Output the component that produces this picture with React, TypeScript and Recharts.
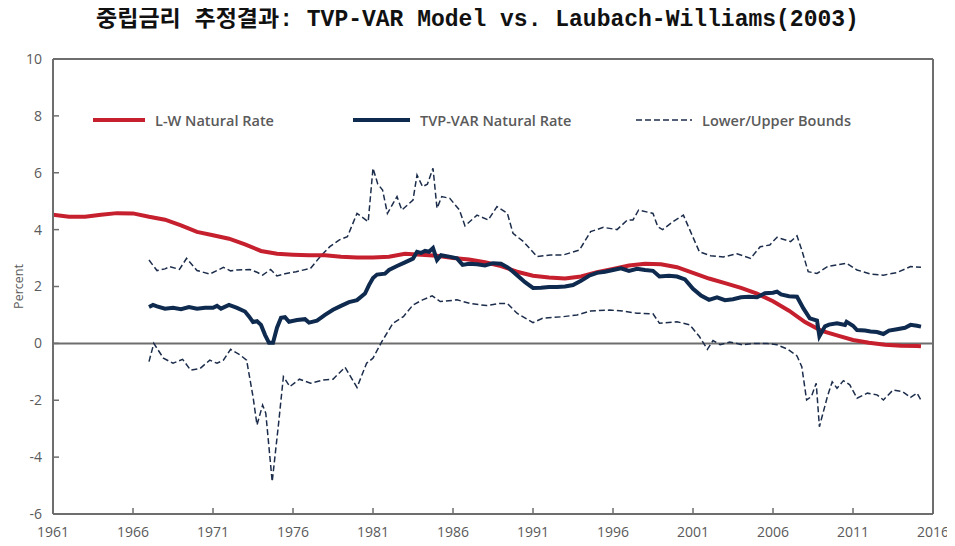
import React from 'react';
import { LineChart, Line, XAxis, YAxis, ReferenceLine, Legend, Label } from 'recharts';

const titleText = '중립금리 추정결과: TVP-VAR Model vs. Laubach-Williams(2003)';
const xTicks = [1961, 1966, 1971, 1976, 1981, 1986, 1991, 1996, 2001, 2006, 2011, 2016];
const yTicks = [-6, -4, -2, 0, 2, 4, 6, 8, 10];

const lwDates = [1961, 1962, 1963, 1964, 1965, 1966, 1967, 1968, 1969, 1970, 1971, 1972, 1973, 1974, 1975, 1976, 1977, 1978, 1979, 1980, 1981, 1982, 1983, 1984, 1985, 1986, 1987, 1988, 1989, 1990, 1991, 1992, 1993, 1994, 1995, 1996, 1997, 1998, 1999, 2000, 2001, 2002, 2003, 2004, 2005, 2006, 2007, 2008, 2009, 2010, 2011, 2012, 2013, 2014, 2015, 2015.25];
const lwRates = [4.52, 4.45, 4.45, 4.52, 4.58, 4.57, 4.45, 4.35, 4.15, 3.92, 3.80, 3.68, 3.48, 3.25, 3.15, 3.12, 3.10, 3.10, 3.05, 3.02, 3.02, 3.05, 3.15, 3.12, 3.08, 3.00, 2.95, 2.85, 2.72, 2.52, 2.38, 2.32, 2.28, 2.35, 2.50, 2.62, 2.74, 2.80, 2.78, 2.68, 2.48, 2.28, 2.12, 1.95, 1.75, 1.48, 1.15, 0.75, 0.45, 0.28, 0.12, 0.02, -0.05, -0.08, -0.09, -0.10];

const tvpDates = [1967.0, 1967.25, 1967.5, 1968.0, 1968.5, 1969.0, 1969.5, 1970.0, 1970.5, 1971.0, 1971.25, 1971.5, 1972.0, 1972.5, 1973.0, 1973.25, 1973.5, 1973.75, 1974.0, 1974.25, 1974.5, 1974.75, 1975.0, 1975.25, 1975.5, 1975.75, 1976.25, 1976.75, 1977.0, 1977.5, 1978.0, 1978.5, 1979.0, 1979.5, 1980.0, 1980.5, 1980.75, 1981.0, 1981.25, 1981.75, 1982.0, 1982.5, 1983.0, 1983.5, 1983.75, 1984.0, 1984.25, 1984.5, 1984.75, 1985.0, 1985.25, 1985.75, 1986.25, 1986.6, 1987.0, 1987.5, 1988.0, 1988.5, 1989.0, 1989.5, 1990.0, 1990.5, 1991.0, 1991.5, 1992.0, 1992.5, 1993.0, 1993.5, 1994.0, 1994.5, 1995.0, 1995.5, 1996.0, 1996.5, 1997.0, 1997.5, 1998.0, 1998.5, 1998.9, 1999.5, 2000.0, 2000.5, 2001.0, 2001.5, 2002.0, 2002.5, 2003.0, 2003.5, 2004.0, 2004.5, 2005.0, 2005.5, 2006.0, 2006.25, 2006.5, 2007.0, 2007.5, 2007.9, 2008.3, 2008.75, 2008.9, 2009.25, 2009.5, 2010.0, 2010.5, 2010.6, 2011.0, 2011.25, 2011.75, 2012.1, 2012.5, 2012.9, 2013.25, 2013.75, 2014.25, 2014.6, 2015.0, 2015.25];
const tvpRates = [1.28, 1.35, 1.30, 1.22, 1.25, 1.20, 1.28, 1.22, 1.25, 1.25, 1.32, 1.22, 1.35, 1.25, 1.12, 0.95, 0.75, 0.78, 0.65, 0.30, 0.02, 0.02, 0.55, 0.90, 0.92, 0.76, 0.82, 0.85, 0.73, 0.80, 1.00, 1.18, 1.32, 1.45, 1.52, 1.75, 2.05, 2.30, 2.42, 2.45, 2.58, 2.72, 2.85, 2.98, 3.22, 3.18, 3.25, 3.22, 3.35, 2.93, 3.10, 3.05, 2.99, 2.76, 2.80, 2.78, 2.74, 2.82, 2.80, 2.64, 2.40, 2.15, 1.95, 1.96, 1.98, 1.98, 2.00, 2.05, 2.20, 2.38, 2.48, 2.52, 2.58, 2.64, 2.55, 2.62, 2.58, 2.55, 2.35, 2.38, 2.35, 2.25, 1.92, 1.68, 1.53, 1.62, 1.52, 1.55, 1.62, 1.64, 1.62, 1.76, 1.78, 1.82, 1.72, 1.66, 1.64, 1.23, 0.88, 0.80, 0.25, 0.60, 0.66, 0.71, 0.65, 0.76, 0.62, 0.47, 0.45, 0.42, 0.40, 0.33, 0.45, 0.50, 0.55, 0.65, 0.62, 0.59];

const upperDates = [1967.0, 1967.5, 1968.0, 1968.3, 1968.9, 1969.35, 1970.0, 1970.8, 1971.65, 1972.1, 1972.5, 1973.3, 1973.75, 1974.1, 1974.6, 1975.0, 1975.5, 1976.2, 1977.1, 1977.7, 1978.3, 1978.9, 1979.4, 1980.0, 1980.7, 1981.0, 1981.3, 1981.6, 1981.9, 1982.5, 1982.8, 1983.5, 1983.75, 1984.1, 1984.4, 1984.75, 1985.0, 1985.3, 1985.8, 1986.4, 1986.75, 1987.5, 1988.2, 1988.75, 1989.4, 1989.75, 1990.4, 1991.25, 1992.1, 1992.9, 1993.9, 1994.6, 1995.4, 1996.25, 1996.9, 1997.25, 1997.6, 1998.5, 1998.8, 1999.1, 1999.75, 2000.4, 2000.8, 2001.4, 2002.1, 2002.9, 2003.75, 2004.6, 2005.2, 2005.8, 2006.25, 2007.1, 2007.5, 2007.8, 2008.2, 2008.75, 2009.4, 2010.0, 2010.6, 2011.25, 2012.1, 2012.9, 2013.75, 2014.6, 2015.25];
const upperRates = [2.93, 2.56, 2.62, 2.70, 2.60, 2.99, 2.56, 2.44, 2.67, 2.55, 2.58, 2.60, 2.50, 2.40, 2.60, 2.37, 2.45, 2.52, 2.64, 3.05, 3.40, 3.64, 3.75, 4.57, 4.28, 6.16, 5.60, 5.39, 4.57, 5.16, 4.69, 5.04, 5.92, 5.51, 5.60, 6.16, 4.75, 5.16, 5.10, 4.69, 4.13, 4.51, 4.34, 4.81, 4.57, 3.87, 3.58, 3.05, 3.11, 3.11, 3.28, 3.93, 4.08, 4.00, 4.34, 4.34, 4.69, 4.57, 4.10, 4.00, 4.28, 4.51, 3.99, 3.22, 3.08, 3.04, 3.15, 2.99, 3.40, 3.46, 3.73, 3.58, 3.78, 3.28, 2.52, 2.46, 2.70, 2.76, 2.82, 2.58, 2.44, 2.40, 2.49, 2.70, 2.68];

const lowerDates = [1967.0, 1967.3, 1967.9, 1968.5, 1969.1, 1969.6, 1970.2, 1970.8, 1971.25, 1971.65, 1972.1, 1972.7, 1973.1, 1973.5, 1973.75, 1974.1, 1974.3, 1974.7, 1975.1, 1975.4, 1975.8, 1976.4, 1977.1, 1977.9, 1978.5, 1979.25, 1979.6, 1980.0, 1980.6, 1981.0, 1981.55, 1982.25, 1982.9, 1983.5, 1984.1, 1984.7, 1985.2, 1986.25, 1987.1, 1988.1, 1988.9, 1989.4, 1990.0, 1991.0, 1991.6, 1992.9, 1993.75, 1994.6, 1995.8, 1996.6, 1997.5, 1998.5, 1998.9, 2000.0, 2000.8, 2001.4, 2001.9, 2002.25, 2002.7, 2003.3, 2004.1, 2004.75, 2005.6, 2006.25, 2006.9, 2007.5, 2007.8, 2008.1, 2008.4, 2008.7, 2008.9, 2009.4, 2009.7, 2010.0, 2010.4, 2010.8, 2011.25, 2011.9, 2012.5, 2012.9, 2013.5, 2014.1, 2014.6, 2015.0, 2015.25];
const lowerRates = [-0.64, 0.00, -0.52, -0.70, -0.56, -0.94, -0.88, -0.59, -0.70, -0.59, -0.21, -0.41, -0.59, -1.87, -2.87, -2.17, -2.46, -4.86, -2.81, -1.17, -1.52, -1.26, -1.40, -1.29, -1.26, -0.84, -1.17, -1.55, -0.70, -0.52, 0.06, 0.71, 0.94, 1.35, 1.53, 1.67, 1.47, 1.53, 1.40, 1.33, 1.40, 1.40, 1.06, 0.73, 0.88, 0.94, 1.00, 1.14, 1.17, 1.14, 1.06, 1.04, 0.71, 0.76, 0.65, 0.24, -0.21, 0.10, -0.05, 0.05, -0.05, 0.00, 0.00, -0.05, -0.20, -0.44, -0.82, -1.99, -1.87, -1.40, -2.93, -1.87, -1.35, -1.58, -1.31, -1.46, -1.93, -1.75, -1.81, -1.99, -1.64, -1.70, -1.90, -1.75, -2.00];

const build = (dates: number[], vals: number[]) => dates.map((d, i) => ({ date: d, value: vals[i] }));
const lwData = build(lwDates, lwRates);
const tvpData = build(tvpDates, tvpRates);
const upperData = build(upperDates, upperRates);
const lowerData = build(lowerDates, lowerRates);

const RED = '#c6202e';
const NAVY = '#0e2a4e';
const DASH = '#1c2d4b';
const AXIS = '#6e6e6e';
const TEXT = '#5a5a5a';
const FONT = "'Open Sans', 'Noto Sans', sans-serif";

const legendItems = [
  { left: 85, width: 52, label: 'L-W Natural Rate', color: RED, sw: 4, dash: undefined as string | undefined },
  { left: 345, width: 57, label: 'TVP-VAR Natural Rate', color: NAVY, sw: 4, dash: undefined as string | undefined },
  { left: 628, width: 56, label: 'Lower/Upper Bounds', color: DASH, sw: 1.6, dash: '6 3' },
];

const renderLegend = () => (
  <div style={{ position: 'relative', width: 947, height: 24 }}>
    {legendItems.map((it) => (
      <div key={it.label} style={{ position: 'absolute', left: it.left, top: 0, height: 24, display: 'flex', alignItems: 'center' }}>
        <svg width={it.width} height={24} style={{ display: 'block' }}>
          <line x1={0} y1={12} x2={it.width} y2={12} stroke={it.color} strokeWidth={it.sw} strokeDasharray={it.dash} />
        </svg>
        <span style={{ marginLeft: 10, fontFamily: FONT, fontWeight: 600, fontSize: 14.5, color: TEXT, whiteSpace: 'nowrap' }}>{it.label}</span>
      </div>
    ))}
  </div>
);

export default function App() {
  return (
    <div style={{ position: 'relative', width: 947, height: 538 }}>
      <div style={{ position: 'absolute', top: 0, left: 0, width: 939, textAlign: 'center', fontFamily: "'Liberation Mono', 'Noto Sans CJK KR', monospace", fontWeight: 700, fontSize: 23, lineHeight: '24px', color: '#111', zIndex: 2, whiteSpace: 'nowrap' }}>
        {titleText}
      </div>
      <LineChart width={947} height={538} margin={{ top: 51, right: 22, bottom: 2, left: 0 }}>
        <XAxis
          dataKey="date"
          type="number"
          domain={[1961, 2016]}
          ticks={xTicks}
          allowDataOverflow
          height={30}
          tickSize={-6}
          tickMargin={19}
          axisLine={{ stroke: AXIS, strokeWidth: 2 }}
          tickLine={{ stroke: AXIS, strokeWidth: 1.5 }}
          tick={{ fill: TEXT, fontSize: 14, fontFamily: FONT }}
          interval={0}
        />
        <YAxis
          type="number"
          domain={[-6, 10]}
          ticks={yTicks}
          width={45}
          tickSize={-6}
          tickMargin={17}
          axisLine={{ stroke: AXIS, strokeWidth: 2 }}
          tickLine={{ stroke: AXIS, strokeWidth: 1.5 }}
          tick={{ fill: TEXT, fontSize: 14, fontFamily: FONT }}
          interval={0}
        >
          <Label value="Percent" angle={-90} position="insideLeft" offset={0} dx={11} style={{ fill: TEXT, fontSize: 12.5, fontFamily: FONT, textAnchor: 'middle' }} />
        </YAxis>
        <ReferenceLine y={10} stroke={AXIS} strokeWidth={2} />
        <ReferenceLine x={2016} stroke={AXIS} strokeWidth={2} />
        <ReferenceLine y={0} stroke={AXIS} strokeWidth={2} />
        <Legend layout="horizontal" verticalAlign="middle" align="center" content={renderLegend} wrapperStyle={{ top: 100, left: 0, width: 947, height: 24 }} />
        <Line data={upperData} dataKey="value" name="Upper Bound" stroke={DASH} strokeWidth={1.5} strokeDasharray="6 3" dot={false} isAnimationActive={false} legendType="none" />
        <Line data={lowerData} dataKey="value" name="Lower Bound" stroke={DASH} strokeWidth={1.5} strokeDasharray="6 3" dot={false} isAnimationActive={false} legendType="none" />
        <Line data={lwData} dataKey="value" name="L-W Natural Rate" stroke={RED} strokeWidth={4} dot={false} isAnimationActive={false} />
        <Line data={tvpData} dataKey="value" name="TVP-VAR Natural Rate" stroke={NAVY} strokeWidth={4} dot={false} isAnimationActive={false} />
      </LineChart>
    </div>
  );
}
